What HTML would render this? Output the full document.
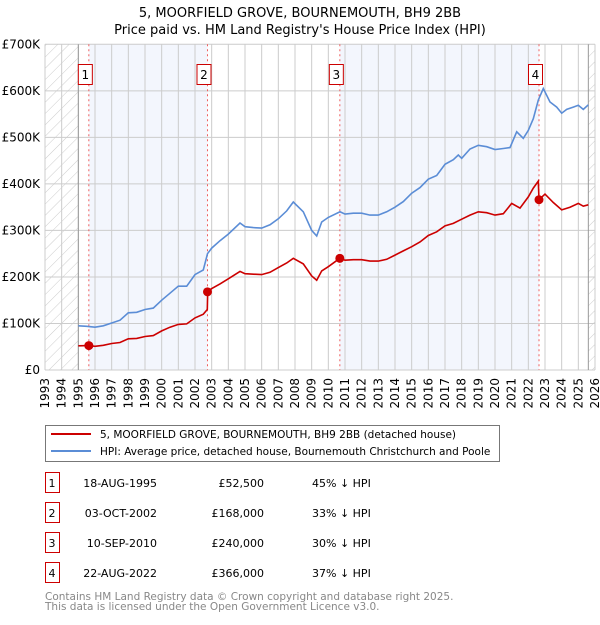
<!DOCTYPE html>
<html><head><meta charset="utf-8"><style>
body{margin:0;background:#fff;font-family:"Liberation Sans","DejaVu Sans",sans-serif;}
svg text{font-family:"DejaVu Sans","Liberation Sans",sans-serif;}
</style></head><body>
<svg id="c" width="600" height="620" xmlns="http://www.w3.org/2000/svg">
<defs><pattern id="hatch" width="8" height="8" patternUnits="userSpaceOnUse" patternTransform="rotate(45)"><line x1="0" y1="0" x2="0" y2="8" stroke="#ccc" stroke-width="1"/></pattern></defs>
<text x="300" y="17" text-anchor="middle" font-size="13">5, MOORFIELD GROVE, BOURNEMOUTH, BH9 2BB</text>
<text x="300" y="34" text-anchor="middle" font-size="13">Price paid vs. HM Land Registry's House Price Index (HPI)</text>
<g id="plot"></g>
<g id="legend">
<rect x="45.5" y="425.5" width="454" height="36" fill="#fff" stroke="#777"/>
<line x1="51" y1="434" x2="91" y2="434" stroke="#cc0000" stroke-width="2"/>
<text x="100" y="438" font-size="10.5">5, MOORFIELD GROVE, BOURNEMOUTH, BH9 2BB (detached house)</text>
<line x1="51" y1="451" x2="91" y2="451" stroke="#5b8dd6" stroke-width="2"/>
<text x="100" y="455" font-size="10.5">HPI: Average price, detached house, Bournemouth Christchurch and Poole</text>
</g>
<g id="table"></g>
<text x="45" y="600" font-size="10.5" fill="#888">Contains HM Land Registry data © Crown copyright and database right 2025.</text>
<text x="45" y="610" font-size="10.5" fill="#888">This data is licensed under the Open Government Licence v3.0.</text>
</svg>
<script>
const hpiYears=[1995,1995.5,1996,1996.5,1997,1997.5,1998,1998.5,1999,1999.5,2000,2000.5,2001,2001.5,2002,2002.5,2002.75,2003,2003.5,2004,2004.7,2005,2005.5,2006,2006.5,2007,2007.5,2007.9,2008.5,2009,2009.3,2009.6,2010,2010.7,2011,2011.5,2012,2012.5,2013,2013.5,2014,2014.5,2015,2015.5,2016,2016.5,2017,2017.5,2017.8,2018,2018.5,2019,2019.5,2020,2020.5,2020.9,2021.3,2021.7,2022,2022.3,2022.6,2022.9,2023.3,2023.7,2024,2024.3,2024.7,2025,2025.3,2025.6];
const hpiValues=[95,94,92,95,101,107,123,124,130,133,150,165,180,180,205,215,250,262,278,292,316,308,306,305,312,325,342,361,340,300,288,318,328,340,335,337,337,333,333,340,350,362,380,392,410,418,442,452,462,455,475,483,480,474,476,478,512,498,515,540,580,605,576,565,552,560,565,569,560,570];
const priceYears=[1995,1995.63,1996,1996.5,1997,1997.5,1998,1998.5,1999,1999.5,2000,2000.5,2001,2001.5,2002,2002.5,2002.74,2002.76,2003,2003.5,2004,2004.7,2005,2005.5,2006,2006.5,2007,2007.5,2007.9,2008.5,2009,2009.3,2009.6,2010,2010.69,2011,2011.5,2012,2012.5,2013,2013.5,2014,2014.5,2015,2015.5,2016,2016.5,2017,2017.5,2018,2018.5,2019,2019.5,2020,2020.5,2021,2021.5,2022,2022.3,2022.6,2022.64,2023,2023.5,2024,2024.5,2025,2025.3,2025.6];
const priceValues=[52,52.5,51,53,57,59,67,68,72,74,84,92,98,99,112,120,130,168,175,185,196,212,207,206,205,210,220,230,240,228,202,193,213,222,240,236,237,237,234,234,238,247,256,265,275,289,297,310,315,324,333,340,338,333,336,358,348,372,391,406,366,378,360,344,350,358,352,355];
const saleYears=[1995.63,2002.75,2010.69,2022.64];
const saleValues=[52.5,168,240,366];
const saleDates=["18-AUG-1995","03-OCT-2002","10-SEP-2010","22-AUG-2022"];
const salePrices=["£52,500","£168,000","£240,000","£366,000"];
const saleDiffs=["45% ↓ HPI","33% ↓ HPI","30% ↓ HPI","37% ↓ HPI"];
const yTicks=[0,100,200,300,400,500,600,700];
const yTickLabels=["£0","£100K","£200K","£300K","£400K","£500K","£600K","£700K"];
const xTicks=[];for(let y=1993;y<=2026;y++)xTicks.push(y);

const NS="http://www.w3.org/2000/svg";
const X0=45,X1=595,Y0=370,Y1=44.3;
const xs=y=>X0+(y-1993)/(2026-1993)*(X1-X0);
const ys=v=>Y0-v/700*(Y0-Y1);
const plot=document.getElementById('plot');
function mk(tag,attrs,parent){const e=document.createElementNS(NS,tag);for(const k in attrs)e.setAttribute(k,attrs[k]);(parent||plot).appendChild(e);return e;}

let r;
r=mk('rect',{x:X0,y:Y1,width:X1-X0,height:Y0-Y1,fill:'#fff'});
r=mk('rect',{x:xs(saleYears[0]),y:Y1,width:xs(saleYears[1])-xs(saleYears[0]),height:Y0-Y1,fill:'#f3f6fd'});


r=mk('rect',{x:xs(saleYears[2]),y:Y1,width:xs(saleYears[3])-xs(saleYears[2]),height:Y0-Y1,fill:'#f3f6fd'});


r=mk('rect',{x:X0,y:Y1,width:xs(1995)-X0,height:Y0-Y1,fill:'url(#hatch)'});


r=mk('rect',{x:xs(2025.6),y:Y1,width:X1-xs(2025.6),height:Y0-Y1,fill:'url(#hatch)'});



xTicks.forEach(y=>{
  const l=mk('line',{x1:xs(y),x2:xs(y),y1:Y1,y2:Y0,stroke:'#ccc','stroke-width':1});
  
  
  const t=mk('text',{x:0,y:0,'font-size':12,'text-anchor':'end',transform:`translate(${xs(y)+4},${Y0+8}) rotate(-90)`});
  t.textContent=y;
  
  
});
yTicks.forEach((v,i)=>{
  const l=mk('line',{x1:X0,x2:X1,y1:ys(v),y2:ys(v),stroke:'#ccc','stroke-width':1});
  
  
  const t=mk('text',{x:40,y:ys(v)+4,'font-size':12,'text-anchor':'end'});
  t.textContent=yTickLabels[i];
  
  
});
r=mk('line',{x1:xs(1995),x2:xs(1995),y1:Y1,y2:Y0,stroke:'#999'});
r=mk('line',{x1:xs(2025.6),x2:xs(2025.6),y1:Y1,y2:Y0,stroke:'#999'});

saleYears.forEach((y,i)=>{
  const l=mk('line',{x1:xs(y),x2:xs(y),y1:Y1,y2:Y0,stroke:'#f06060','stroke-dasharray':'2,3','stroke-width':1});
  
  
  const b=mk('rect',{x:xs(y)-10.5,y:64.5,width:14,height:20,fill:'#fff',stroke:'#cc0000'});
  
  
  const t=mk('text',{x:xs(y)-3.5,y:79,'font-size':12,'text-anchor':'middle'});
  t.textContent=i+1;
  
  
});

function path(xsA,vs){return xsA.map((y,i)=>(i?'L':'M')+xs(y).toFixed(1)+','+ys(vs[i]).toFixed(1)).join(' ');}
let p=mk('path',{d:path(hpiYears,hpiValues),fill:'none',stroke:'#5b8dd6','stroke-width':1.6});


p=mk('path',{d:path(priceYears,priceValues),fill:'none',stroke:'#cc0000','stroke-width':1.6});


saleYears.forEach((y,i)=>{
  const c=mk('circle',{cx:xs(y),cy:ys(saleValues[i]),r:4.5,fill:'#cc0000'});
  
  
});

const tb=document.getElementById('table');
saleYears.forEach((y,i)=>{
  const cy=483+i*30;
  const b=mk('rect',{x:45.5,y:cy-10.5,width:14,height:20,fill:'#fff',stroke:'#cc0000'},tb);
  
  
  const cells=[[52,'middle',String(i+1)],[157,'end',saleDates[i]],[264,'end',salePrices[i]],[312,'start',saleDiffs[i]]];
  cells.forEach(([x,a,s])=>{
    const t=mk('text',{x:x,y:cy+4,'font-size':11,'text-anchor':a},tb);
    t.textContent=s;
    
    
  });
});
</script>
</body></html>
